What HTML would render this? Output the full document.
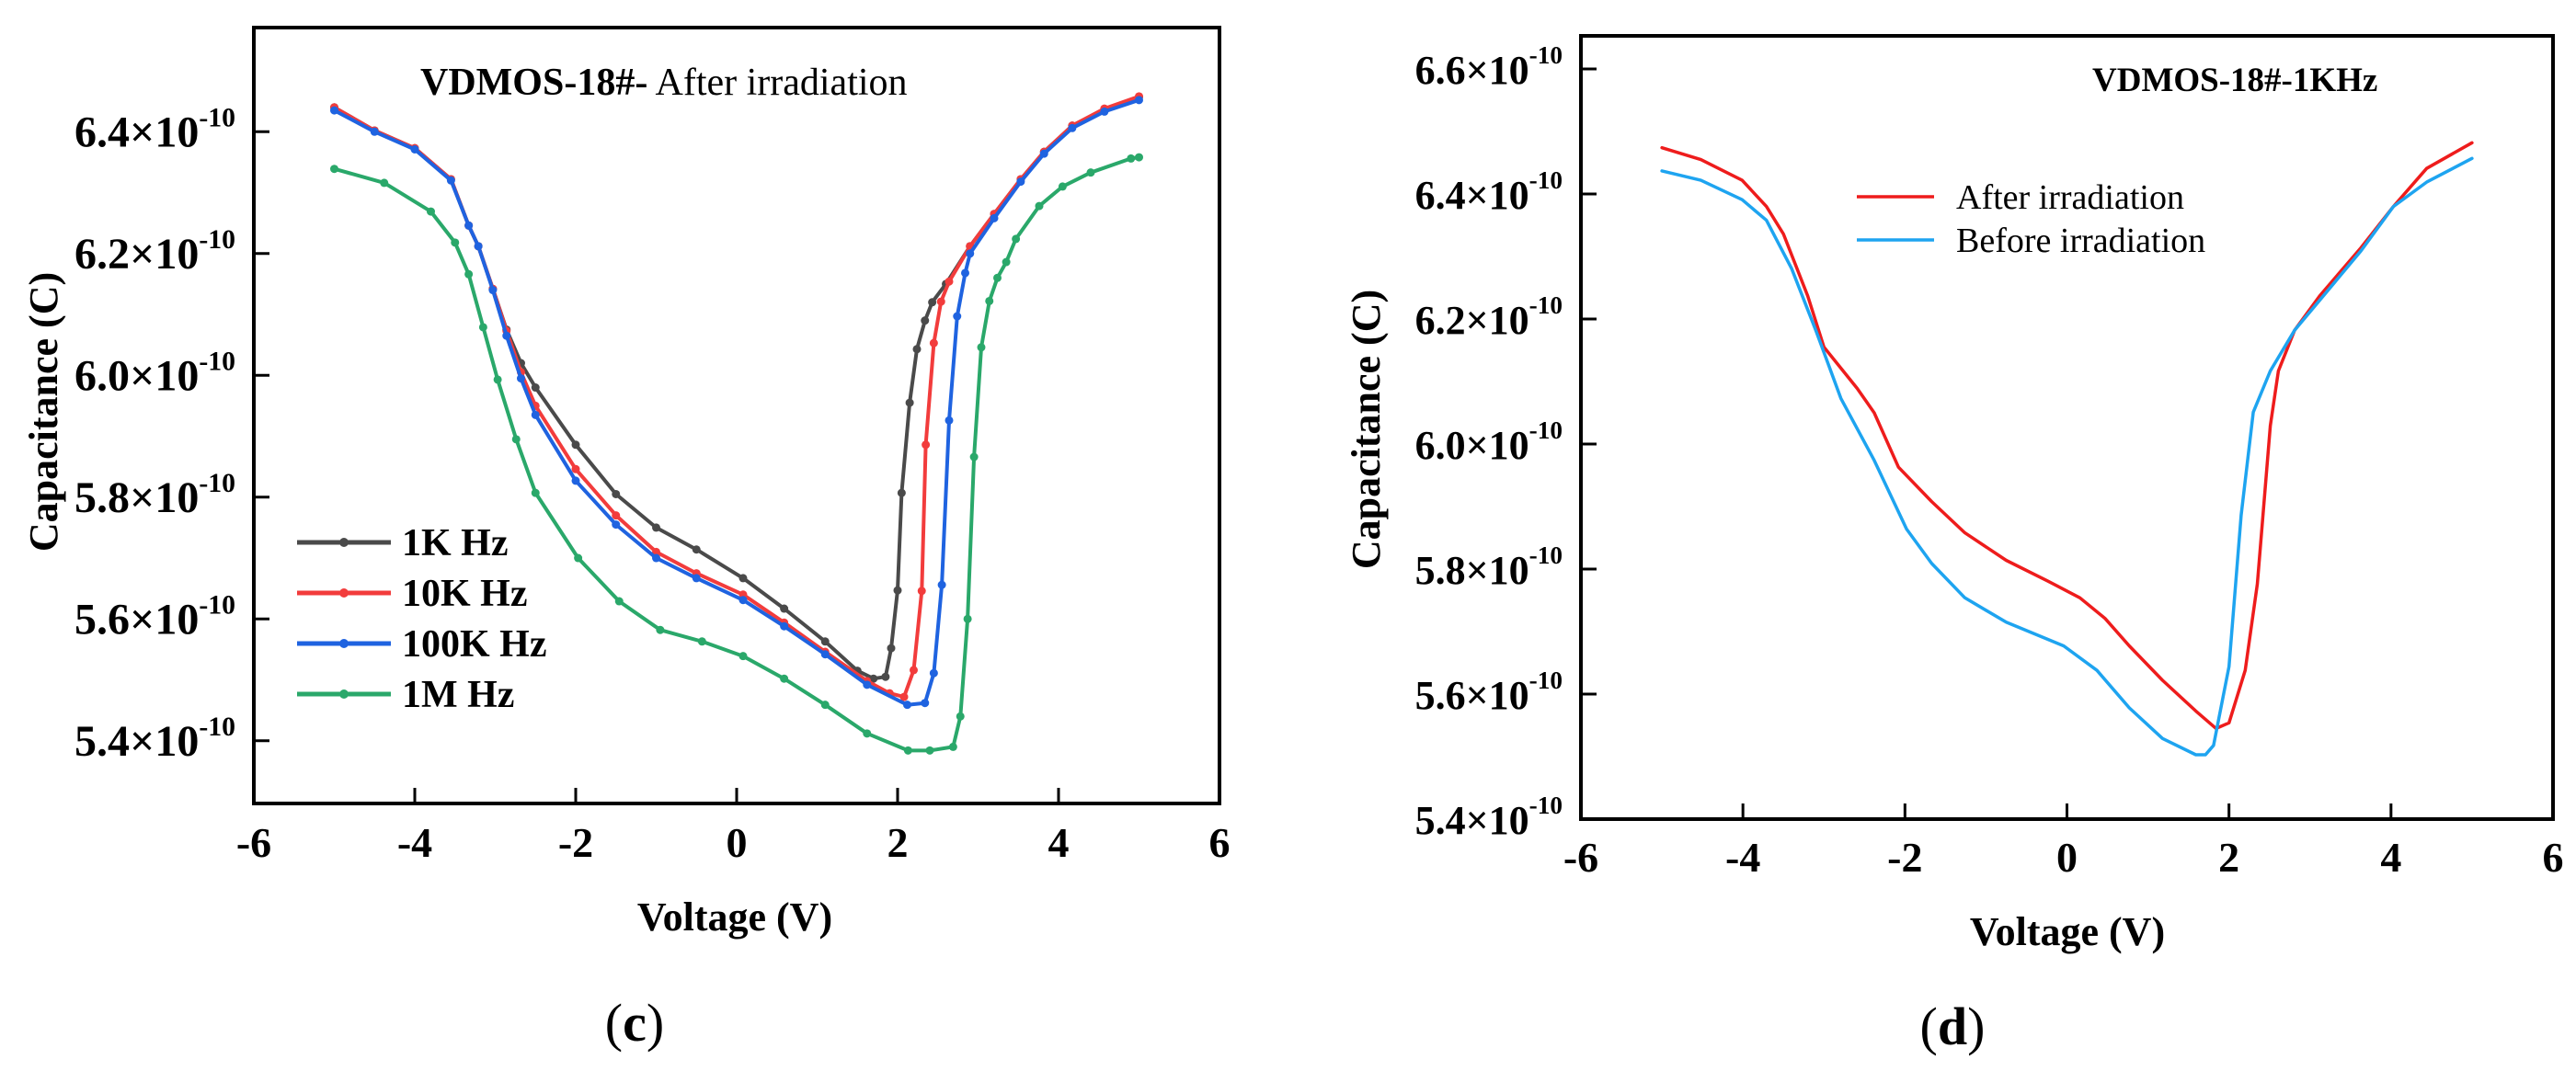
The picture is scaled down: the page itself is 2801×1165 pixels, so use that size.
<!DOCTYPE html>
<html><head><meta charset="utf-8"><style>
html,body{margin:0;padding:0;background:#fff;}
svg{display:block;font-family:"Liberation Serif",serif;}
</style></head><body>
<svg id="fig" width="2801" height="1165" viewBox="0 0 2801 1165"></svg>
<script>
// ---- Chart (c) data: voltage (V), capacitance (x1e-10 F)
const cTicksX = [-6,-4,-2,0,2,4,6];
const cTicksY = [5.4,5.6,5.8,6.0,6.2,6.4];
const c1kV = [-5,-4.5,-4,-3.55,-3.33,-3.21,-3.03,-2.86,-2.68,-2.5,-2,-1.5,-1,-0.5,0.08,0.59,1.1,1.5,1.7,1.85,1.92,2.0,2.05,2.15,2.24,2.34,2.43,2.6,2.9,3.2,3.53,3.82,4.17,4.57,5];
const c1kC = [6.44,6.402,6.373,6.322,6.246,6.212,6.142,6.075,6.02,5.98,5.886,5.805,5.75,5.714,5.667,5.617,5.563,5.515,5.502,5.505,5.552,5.647,5.807,5.955,6.043,6.09,6.12,6.15,6.212,6.265,6.322,6.367,6.41,6.437,6.457];
const c10kV = [-5,-4.5,-4,-3.55,-3.33,-3.21,-3.03,-2.86,-2.68,-2.5,-2,-1.5,-1,-0.5,0.08,0.59,1.1,1.62,1.9,2.08,2.2,2.3,2.35,2.45,2.54,2.64,2.9,3.2,3.53,3.82,4.17,4.57,5];
const c10kC = [6.44,6.402,6.373,6.322,6.246,6.212,6.142,6.073,6.005,5.95,5.846,5.77,5.71,5.675,5.64,5.594,5.546,5.498,5.478,5.472,5.516,5.646,5.886,6.053,6.121,6.154,6.212,6.265,6.322,6.367,6.41,6.438,6.458];
const c100kV = [-5,-4.5,-4,-3.55,-3.33,-3.21,-3.03,-2.86,-2.68,-2.5,-2,-1.5,-1,-0.5,0.08,0.59,1.1,1.62,2.12,2.34,2.45,2.55,2.64,2.74,2.84,2.9,3.2,3.53,3.82,4.17,4.57,5];
const c100kC = [6.435,6.4,6.371,6.32,6.246,6.212,6.14,6.065,5.995,5.935,5.827,5.755,5.70,5.667,5.631,5.588,5.542,5.492,5.459,5.462,5.511,5.656,5.926,6.097,6.168,6.2,6.258,6.318,6.364,6.406,6.433,6.452];
const c1mV = [-5,-4.38,-3.8,-3.5,-3.33,-3.15,-2.97,-2.74,-2.5,-1.97,-1.46,-0.95,-0.43,0.08,0.59,1.1,1.62,2.13,2.4,2.69,2.78,2.87,2.95,3.04,3.14,3.24,3.35,3.47,3.76,4.05,4.4,4.9,5];
const c1mC = [6.339,6.316,6.269,6.218,6.166,6.079,5.993,5.895,5.807,5.70,5.629,5.582,5.563,5.539,5.502,5.459,5.412,5.384,5.384,5.39,5.44,5.6,5.866,6.046,6.122,6.16,6.186,6.224,6.278,6.31,6.333,6.356,6.358];
// ---- Chart (d) data
const dTicksX = [-6,-4,-2,0,2,4,6];
const dTicksY = [5.4,5.6,5.8,6.0,6.2,6.4,6.6];
const dAfterV = [-5,-4.52,-4.01,-3.71,-3.5,-3.2,-3.0,-2.59,-2.38,-2.08,-1.67,-1.26,-0.75,-0.24,0.16,0.47,0.77,1.18,1.59,1.84,2.0,2.2,2.35,2.51,2.61,2.81,3.12,3.63,4.03,4.44,5.0];
const dAfterC = [6.474,6.455,6.422,6.38,6.336,6.237,6.155,6.089,6.05,5.963,5.908,5.858,5.814,5.781,5.754,5.721,5.677,5.622,5.573,5.545,5.554,5.638,5.776,6.029,6.117,6.182,6.237,6.314,6.38,6.441,6.482];
const dBeforeV = [-5,-4.52,-4.01,-3.71,-3.4,-3.1,-2.79,-2.38,-1.98,-1.67,-1.26,-0.75,-0.04,0.37,0.77,1.18,1.59,1.71,1.81,2.0,2.15,2.3,2.51,2.81,3.63,4.03,4.44,5.0];
const dBeforeC = [6.437,6.422,6.391,6.358,6.281,6.182,6.073,5.974,5.864,5.809,5.754,5.715,5.677,5.638,5.578,5.529,5.503,5.503,5.518,5.644,5.886,6.051,6.117,6.182,6.309,6.38,6.419,6.457];

const NS = "http://www.w3.org/2000/svg";
const svg = document.getElementById('fig');
function mk(tag, attrs, parent){const e=document.createElementNS(NS,tag);for(const k in attrs)e.setAttribute(k,attrs[k]);(parent||svg).appendChild(e);return e;}

function drawChart(o){
  const g = mk('g',{});
  
  
  const sx = v => o.L + (v - o.xMin)/(o.xMax - o.xMin)*(o.R - o.L);
  const sy = c => o.B - (c - o.yMin)/(o.yMax - o.yMin)*(o.B - o.T);
  // series
  o.series.forEach(s=>{
    const sg = mk('g',{},g);
    
    
    const pts = s.v.map((v,i)=>sx(v).toFixed(1)+','+sy(s.c[i]).toFixed(1)).join(' ');
    const pl = mk('polyline',{points:pts,fill:'none',stroke:s.color,'stroke-width':s.w,'stroke-linejoin':'round','stroke-linecap':'round'},sg);
    
    
    if(s.marker){
      s.v.forEach((v,i)=>{
        const m = mk('circle',{cx:sx(v),cy:sy(s.c[i]),r:4.5,fill:s.color},sg);
        
        
      });
    }
  });
  // frame
  const fr = mk('rect',{x:o.L,y:o.T,width:o.R-o.L,height:o.B-o.T,fill:'none',stroke:'#000','stroke-width':4},g);
  
  
  // x ticks
  o.ticksX.forEach(t=>{
    const x = sx(t);
    if(t>o.xMin && t<o.xMax){
      const tk = mk('line',{x1:x,x2:x,y1:o.B,y2:o.B-17,stroke:'#000','stroke-width':3},g);
      
      
    }
    const tx = mk('text',{x:x,y:o.xLabY,'text-anchor':'middle','font-size':46,'font-weight':'bold'},g);
    tx.textContent = t;
    
    
  });
  o.ticksY.forEach(t=>{
    const y = sy(t);
    const tk = mk('line',{x1:o.L,x2:o.L+17,y1:y,y2:y,stroke:'#000','stroke-width':3},g);
    
    
    const tx = mk('text',{x:o.L-20,y:y+16,'text-anchor':'end','font-size':o.yFont,'font-weight':'bold'},g);
    const a = mk('tspan',{},tx); a.textContent = t.toFixed(1)+'×10';
    const b = mk('tspan',{dy:-22,'font-size':o.yFont*0.62}); tx.appendChild(b); b.textContent='-10';
    
    
  });
  const xt = mk('text',{x:o.xTitleX,y:o.xTitleY,'text-anchor':'middle','font-size':44,'font-weight':'bold'},g);
  xt.textContent = 'Voltage (V)';
  
  
  const yt = mk('text',{x:0,y:0,'text-anchor':'middle','font-size':44,'font-weight':'bold',transform:`translate(${o.yTitleX},${o.yTitleY}) rotate(-90)`},g);
  yt.textContent = 'Capacitance (C)';
  
  
  const pl = mk('text',{x:o.panelX,y:o.panelY,'text-anchor':'middle','font-size':58},g);
  pl.innerHTML = '(<tspan font-weight="bold">'+o.panel+'</tspan>)';
  
  
  return g;
}

drawChart({name:'chart-c',L:276,R:1326,T:30,B:874,xMin:-6,xMax:6,yMin:5.297,yMax:6.571,
  ticksX:cTicksX,ticksY:cTicksY,xLabY:932,yFont:48,xTitleX:799,xTitleY:1012,yTitleX:62,yTitleY:448,
  panelX:690,panelY:1132,panel:'c',
  series:[
    {name:'series-1k',v:c1kV,c:c1kC,color:'#4a4a4a',w:4,marker:true},
    {name:'series-10k',v:c10kV,c:c10kC,color:'#f23c3c',w:4,marker:true},
    {name:'series-100k',v:c100kV,c:c100kC,color:'#1f63e0',w:4,marker:true},
    {name:'series-1m',v:c1mV,c:c1mC,color:'#2aa86a',w:4,marker:true}
  ]});
drawChart({name:'chart-d',L:1719,R:2776,T:39,B:891,xMin:-6,xMax:6,yMin:5.4,yMax:6.653,
  ticksX:dTicksX,ticksY:dTicksY,xLabY:948,yFont:44,xTitleX:2248,xTitleY:1028,yTitleX:1500,yTitleY:467,
  panelX:2123,panelY:1136,panel:'d',
  series:[
    {name:'series-after',v:dAfterV,c:dAfterC,color:'#ee1c1c',w:3.5,marker:false},
    {name:'series-before',v:dBeforeV,c:dBeforeC,color:'#1ea4f0',w:3.5,marker:false}
  ]});
</script>
<svg style="position:absolute;left:0;top:0" width="2801" height="1165">
  <text x="457" y="103" font-family="Liberation Serif, serif" font-size="42"><tspan font-weight="bold">VDMOS-18#-</tspan> After irradiation</text>
  <g font-family="Liberation Serif, serif" font-size="42" font-weight="bold">
    <g><line x1="323" x2="425" y1="590" y2="590" stroke="#4a4a4a" stroke-width="5"/><circle cx="374" cy="590" r="5" fill="#4a4a4a"/><text x="437" y="604">1K Hz</text></g>
    <g><line x1="323" x2="425" y1="645" y2="645" stroke="#f23c3c" stroke-width="5"/><circle cx="374" cy="645" r="5" fill="#f23c3c"/><text x="437" y="659">10K Hz</text></g>
    <g><line x1="323" x2="425" y1="700" y2="700" stroke="#1f63e0" stroke-width="5"/><circle cx="374" cy="700" r="5" fill="#1f63e0"/><text x="437" y="714">100K Hz</text></g>
    <g><line x1="323" x2="425" y1="755" y2="755" stroke="#2aa86a" stroke-width="5"/><circle cx="374" cy="755" r="5" fill="#2aa86a"/><text x="437" y="769">1M Hz</text></g>
  </g>
  <text x="2275" y="99" font-family="Liberation Serif, serif" font-size="37" font-weight="bold">VDMOS-18#-1KHz</text>
  <g font-family="Liberation Serif, serif" font-size="38">
    <g><line x1="2019" x2="2103" y1="214" y2="214" stroke="#ee1c1c" stroke-width="3.5"/><text x="2127" y="227">After irradiation</text></g>
    <g><line x1="2019" x2="2103" y1="261" y2="261" stroke="#1ea4f0" stroke-width="3.5"/><text x="2127" y="274">Before irradiation</text></g>
  </g>
</svg>
</body></html>
